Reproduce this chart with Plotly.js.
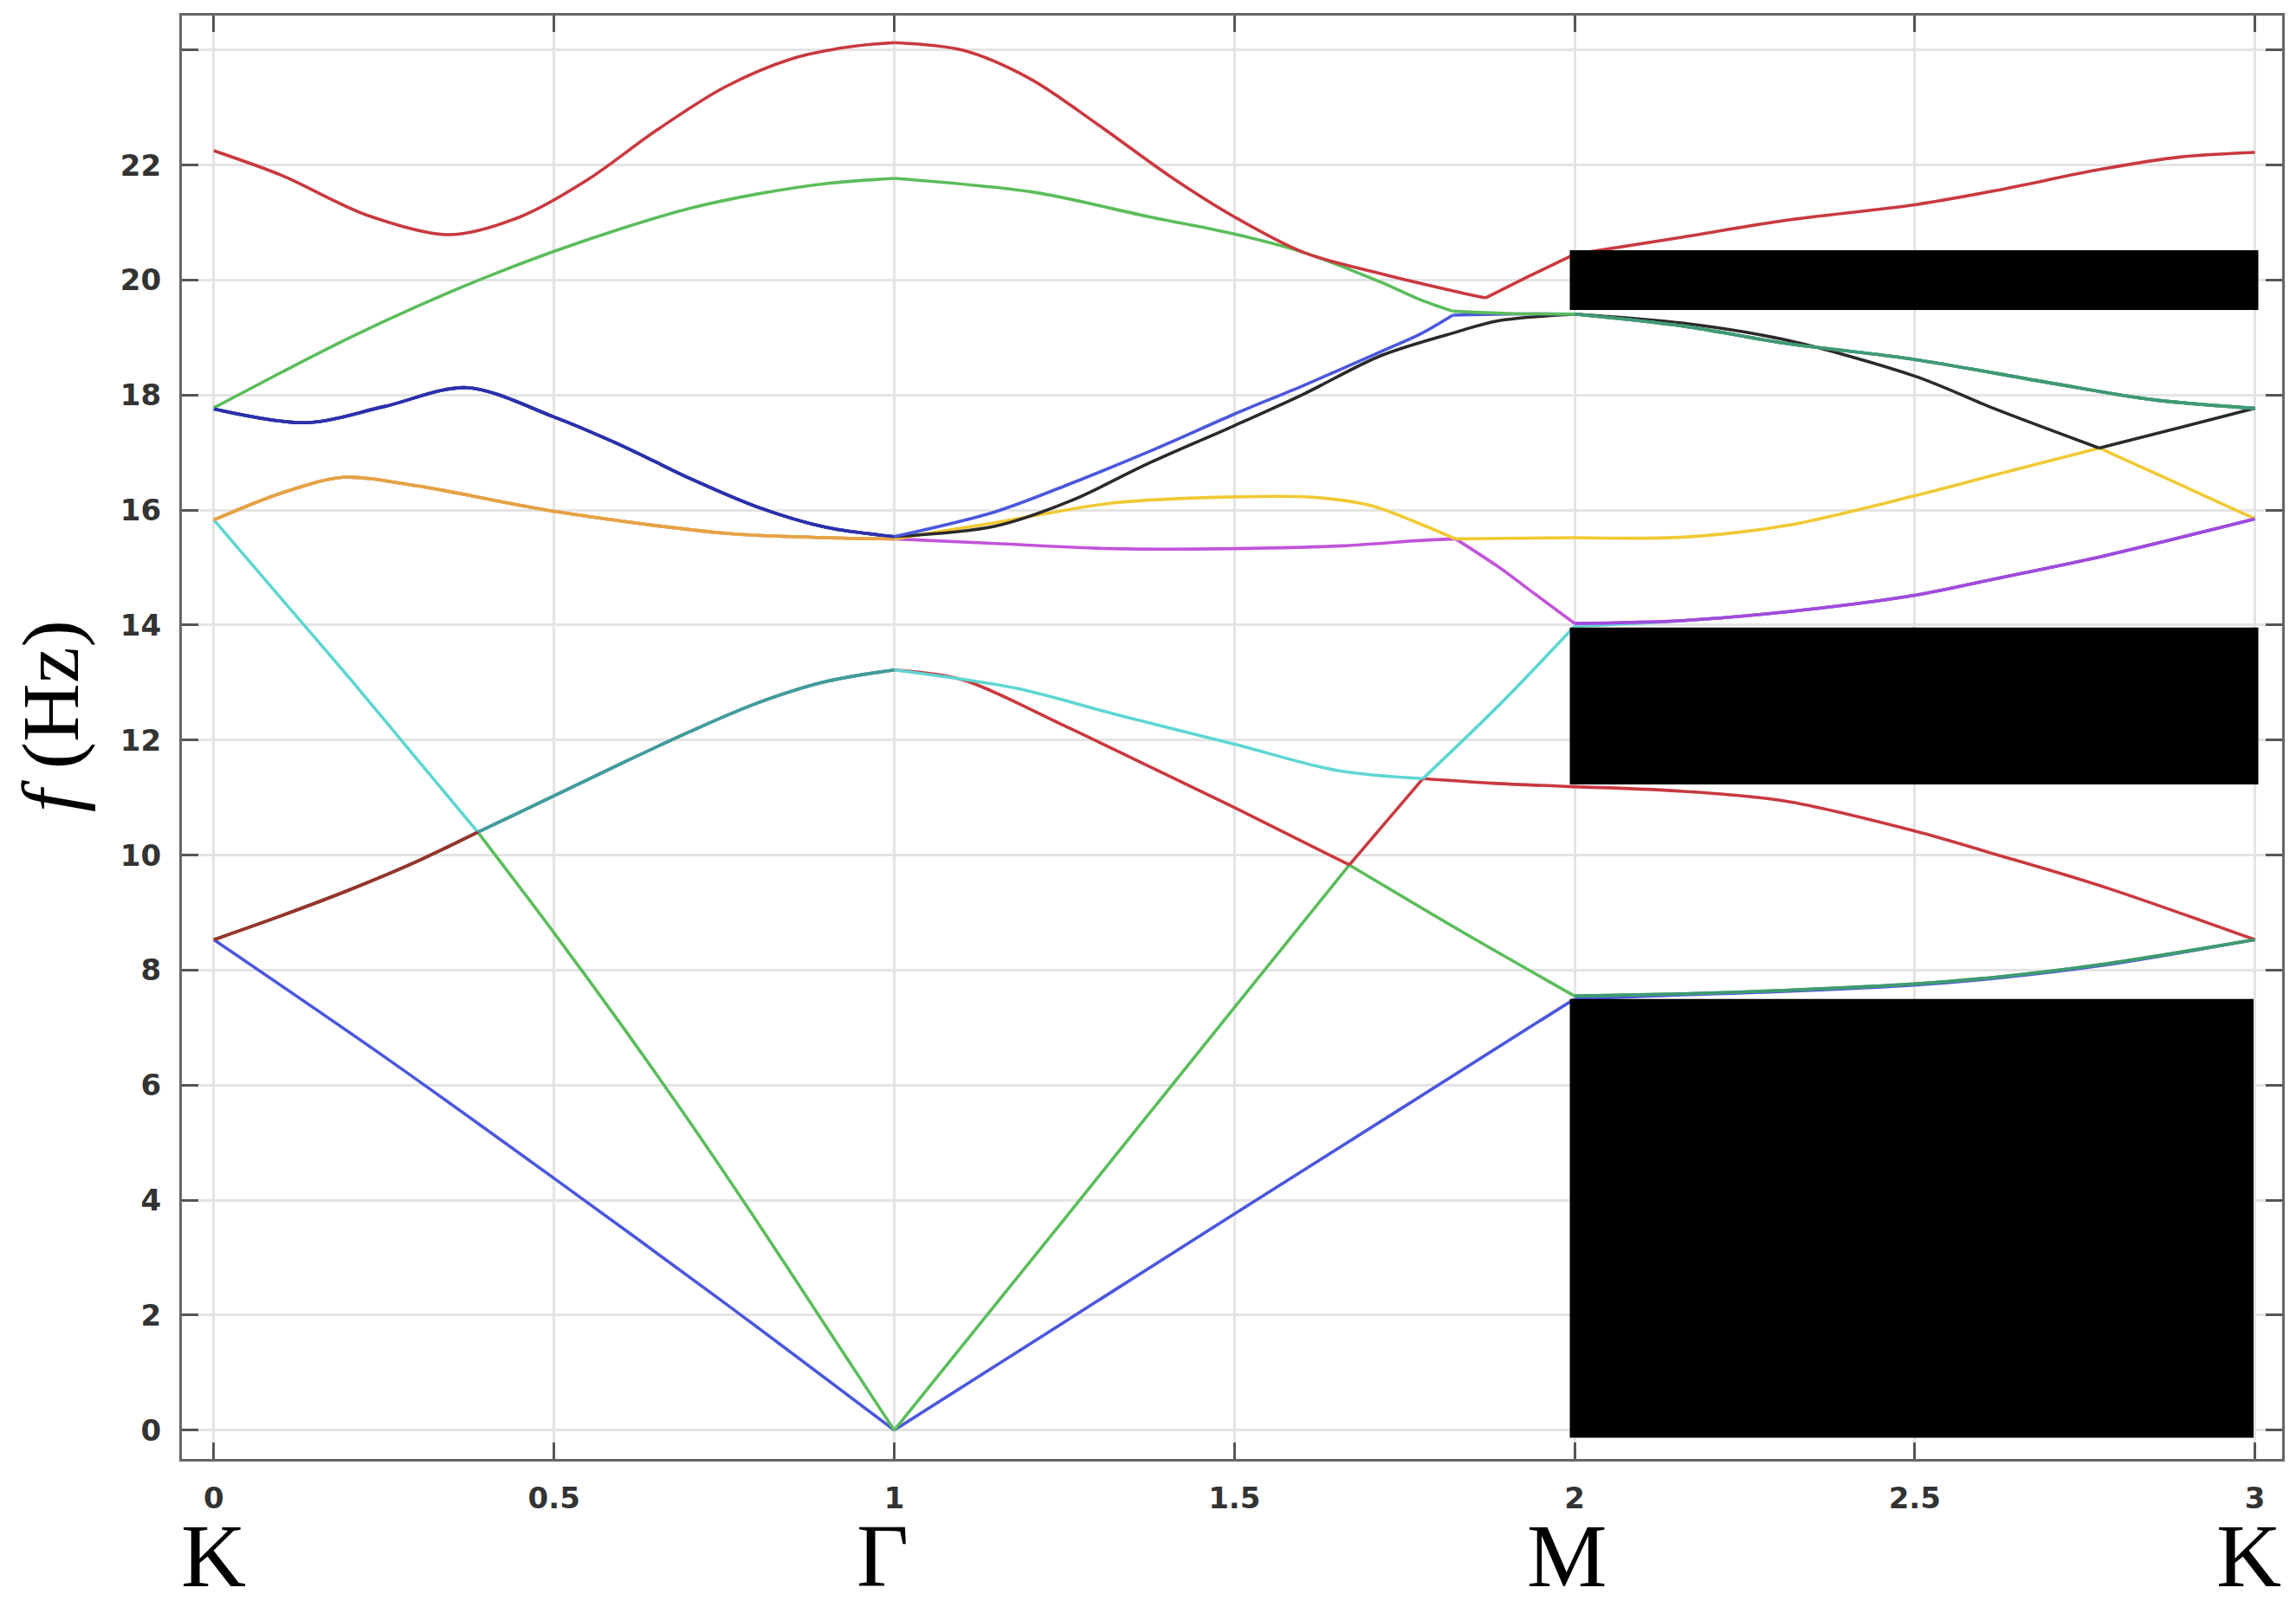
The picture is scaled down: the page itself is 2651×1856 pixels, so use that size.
<!DOCTYPE html>
<html>
<head>
<meta charset="utf-8">
<script src="https://cdn.plot.ly/plotly-3.0.1.min.js"></script>
<style>html,body{margin:0;padding:0;background:#fff}</style>
</head>
<body>
<div id="chart" style="width:2651px;height:1856px"></div>
<script>
// band structure along K -> Gamma -> M -> K, one x/f pair per band (sorted by frequency)
// a repeated x value marks a corner: a high symmetry point or a band crossing
const band1X = [0, 0.25, 0.5, 0.75, 1, 1, 1.25, 1.5, 1.75, 2, 2, 2.16, 2.31, 2.5, 2.62, 2.78, 3];
const band1F = [8.53, 6.5, 4.38, 2.22, 0, 0, 1.88, 3.76, 5.63, 7.5, 7.5, 7.57, 7.63, 7.74, 7.86, 8.09, 8.53];

const band2X = [0, 0.1, 0.2, 0.3, 0.388, 0.388, 0.5, 0.6, 0.7, 0.8, 0.9, 1, 1, 1.25, 1.5, 1.669, 1.669, 1.83, 2, 2, 2.16, 2.31, 2.5, 2.62, 2.78, 3];
const band2F = [8.53, 8.95, 9.4, 9.9, 10.4, 10.4, 8.65, 7.03, 5.35, 3.6, 1.8, 0, 0, 3.67, 7.35, 9.83, 9.83, 8.7, 7.55, 7.55, 7.59, 7.65, 7.76, 7.88, 8.11, 8.53];

const band3X = [0, 0.1, 0.2, 0.3, 0.388, 0.5, 0.6, 0.7, 0.8, 0.9, 1, 1, 1.1, 1.25, 1.4, 1.5, 1.669, 1.669, 1.777, 1.777, 1.88, 2, 2, 2.16, 2.31, 2.5, 2.62, 2.78, 3];
const band3F = [8.53, 8.95, 9.4, 9.9, 10.4, 11.03, 11.6, 12.15, 12.65, 13.02, 13.22, 13.22, 13.05, 12.25, 11.4, 10.83, 9.83, 9.83, 11.33, 11.33, 11.25, 11.19, 11.19, 11.11, 10.94, 10.42, 10.01, 9.44, 8.53];

const band4X = [0, 0.1, 0.2, 0.3, 0.388, 0.388, 0.5, 0.6, 0.7, 0.8, 0.9, 1, 1, 1.18, 1.325, 1.5, 1.652, 1.777, 1.777, 1.89, 2, 2, 2.16, 2.31, 2.5, 2.62, 2.78, 3];
const band4F = [15.83, 14.45, 13.07, 11.65, 10.4, 10.4, 11.03, 11.6, 12.15, 12.65, 13.02, 13.22, 13.22, 12.9, 12.45, 11.93, 11.47, 11.33, 11.33, 12.62, 13.98, 13.98, 14.08, 14.23, 14.52, 14.81, 15.21, 15.85];

const band5X = [0, 0.1, 0.19, 0.3, 0.5, 0.75, 0.9, 1, 1, 1.15, 1.32, 1.5, 1.66, 1.77, 1.825, 1.825, 1.886, 1.943, 2, 2, 2.16, 2.31, 2.5, 2.62, 2.78, 3];
const band5F = [15.83, 16.3, 16.57, 16.42, 15.98, 15.6, 15.52, 15.5, 15.5, 15.42, 15.33, 15.33, 15.38, 15.47, 15.5, 15.5, 15.03, 14.53, 14.03, 14.03, 14.08, 14.23, 14.52, 14.81, 15.21, 15.85];

const band6X = [0, 0.1, 0.19, 0.3, 0.5, 0.75, 0.9, 1, 1, 1.148, 1.318, 1.5, 1.62, 1.7, 1.765, 1.825, 1.825, 1.9, 2, 2, 2.16, 2.31, 2.5, 2.62, 2.771, 2.771, 2.885, 3];
const band6F = [15.83, 16.3, 16.57, 16.42, 15.98, 15.6, 15.52, 15.5, 15.5, 15.78, 16.12, 16.23, 16.22, 16.08, 15.8, 15.5, 15.5, 15.51, 15.52, 15.52, 15.53, 15.73, 16.25, 16.62, 17.08, 17.08, 16.47, 15.85];

const band7X = [0, 0.136, 0.25, 0.372, 0.5, 0.6, 0.7, 0.8, 0.9, 1, 1, 1.148, 1.261, 1.375, 1.5, 1.602, 1.716, 1.83, 1.886, 2, 2, 2.16, 2.31, 2.5, 2.62, 2.771, 2.771, 2.885, 3];
const band7F = [17.76, 17.52, 17.8, 18.13, 17.62, 17.12, 16.55, 16.05, 15.7, 15.54, 15.54, 15.72, 16.17, 16.82, 17.47, 18.02, 18.69, 19.11, 19.29, 19.41, 19.41, 19.25, 18.96, 18.33, 17.75, 17.08, 17.08, 17.42, 17.77];

const band8X = [0, 0.136, 0.25, 0.372, 0.5, 0.6, 0.7, 0.8, 0.9, 1, 1, 1.148, 1.261, 1.375, 1.5, 1.602, 1.716, 1.773, 1.821, 1.821, 1.9, 2, 2, 2.16, 2.31, 2.5, 2.7, 2.85, 3];
const band8F = [17.76, 17.52, 17.8, 18.13, 17.62, 17.12, 16.55, 16.05, 15.7, 15.54, 15.54, 15.97, 16.47, 17.02, 17.67, 18.17, 18.76, 19.06, 19.39, 19.39, 19.41, 19.41, 19.41, 19.2, 18.9, 18.62, 18.21, 17.92, 17.77];

const band9X = [0, 0.1, 0.2, 0.3, 0.4, 0.5, 0.6, 0.7, 0.8, 0.9, 1, 1, 1.204, 1.375, 1.5, 1.602, 1.716, 1.773, 1.821, 1.821, 1.9, 2, 2, 2.16, 2.31, 2.5, 2.7, 2.85, 3];
const band9F = [17.78, 18.4, 19.0, 19.55, 20.05, 20.5, 20.9, 21.25, 21.5, 21.68, 21.77, 21.77, 21.53, 21.1, 20.8, 20.48, 19.96, 19.66, 19.46, 19.46, 19.42, 19.41, 19.41, 19.2, 18.9, 18.62, 18.21, 17.92, 17.77];

const band10X = [0, 0.1, 0.225, 0.346, 0.45, 0.55, 0.65, 0.75, 0.85, 0.93, 1, 1, 1.1, 1.2, 1.3, 1.406, 1.5, 1.602, 1.716, 1.83, 1.869, 1.869, 1.93, 2, 2, 2.16, 2.31, 2.5, 2.62, 2.775, 2.89, 3];
const band10F = [22.25, 21.82, 21.13, 20.79, 21.1, 21.75, 22.6, 23.35, 23.85, 24.05, 24.13, 24.13, 24.0, 23.5, 22.7, 21.8, 21.1, 20.48, 20.11, 19.79, 19.69, 19.69, 20.05, 20.45, 20.45, 20.75, 21.04, 21.31, 21.56, 21.93, 22.14, 22.22];

const symmetryPoints = [0, 1, 2, 3];
const symmetryLabels = ['K', 'Γ', 'M', 'K'];
const xTickVals = [0, 0.5, 1, 1.5, 2, 2.5, 3];
const xTickText = ['0', '0.5', '1', '1.5', '2', '2.5', '3'];
const yTickVals = [0, 2, 4, 6, 8, 10, 12, 14, 16, 18, 20, 22, 24];
const yTickText = ['0', '2', '4', '6', '8', '10', '12', '14', '16', '18', '20', '22', ''];

// black boxes over the M-K branch: [x0, x1, f0, f1]
const maskBoxes = [
    [1.993, 3.005, 19.48, 20.52],
    [1.993, 3.005, 11.23, 13.96],
    [1.993, 2.998, -0.13, 7.5]
];

const bands = [
    [band1X, band1F], [band2X, band2F], [band3X, band3F], [band4X, band4F], [band5X, band5F],
    [band6X, band6F], [band7X, band7F], [band8X, band8F], [band9X, band9F], [band10X, band10F]
];
const bandColors = ['#4b57dc', '#5bbd5b', '#c9393f', '#5ed6d2', '#c254da',
                    '#f1c933', '#2a2a2a', '#4b57dc', '#5bbd5b', '#c9393f'];

// degenerate stretches where two bands sit on top of each other and the colours mix
const overlaps = [
    { band: 3, from: 0, to: 0.388, color: '#93362f' },
    { band: 4, from: 0.388, to: 1, color: '#409c9c' },
    { band: 6, from: 0, to: 1, color: '#e6a243' },
    { band: 8, from: 0, to: 1, color: '#2a30ad' },
    { band: 2, from: 2, to: 3, color: '#3f9a74' },
    { band: 9, from: 2, to: 3, color: '#3f9a74' },
    { band: 5, from: 2, to: 3, color: '#a04ade' }
];

function splitAtCorners(xs, ys) {
    const parts = [];
    let cur = { x: [], y: [] };
    xs.forEach((x, i) => {
        if (i > 0 && x === xs[i - 1]) {
            parts.push(cur);
            cur = { x: [], y: [] };
        }
        cur.x.push(x);
        cur.y.push(ys[i]);
    });
    parts.push(cur);
    return parts;
}

function lineTrace(x, y, color) {
    return {
        x, y,
        type: 'scatter',
        mode: 'lines',
        line: { color, width: 3.6, shape: 'spline', smoothing: 0.9 },
        hoverinfo: 'skip',
        showlegend: false
    };
}

const traces = [];
bands.forEach(([xs, ys], i) => {
    splitAtCorners(xs, ys).forEach(p => traces.push(lineTrace(p.x, p.y, bandColors[i])));
});
overlaps.forEach(o => {
    const [xs, ys] = bands[o.band - 1];
    splitAtCorners(xs, ys).forEach(p => {
        const keep = p.x.map((x, j) => j).filter(j => p.x[j] >= o.from && p.x[j] <= o.to);
        if (keep.length < 2) return;
        traces.push(lineTrace(keep.map(j => p.x[j]), keep.map(j => p.y[j]), o.color));
    });
});

const labelShift = [0, -13, -9, -7];
const annotations = symmetryLabels.map((t, i) => ({
    x: symmetryPoints[i], xref: 'x',
    y: -0.102, yref: 'paper',
    xshift: labelShift[i],
    text: t, showarrow: false, borderpad: 0,
    xanchor: 'center', yanchor: 'bottom',
    font: { family: 'Liberation Serif, Times New Roman, serif', size: 104, color: '#000' }
}));
annotations.push({
    x: -0.0625, xref: 'paper', y: 0.515, yref: 'paper',
    text: '<i>f</i> (Hz)', textangle: -90, showarrow: false, borderpad: 0,
    xanchor: 'center', yanchor: 'middle',
    font: { family: 'Liberation Serif, Times New Roman, serif', size: 94, color: '#000' }
});

const shapes = maskBoxes.map(b => ({
    type: 'rect', xref: 'x', yref: 'y',
    x0: b[0], x1: b[1], y0: b[2], y1: b[3],
    fillcolor: '#000', line: { width: 0 }, layer: 'above'
}));

const axisCommon = {
    ticks: 'inside', ticklen: 19, tickwidth: 3, tickcolor: '#555',
    showline: true, linecolor: '#666', linewidth: 3, mirror: 'ticks',
    showgrid: true, gridcolor: '#e4e4e4', gridwidth: 3, zeroline: false,
    tickfont: { family: 'DejaVu Sans, sans-serif', size: 34, color: '#333', weight: 'bold' }
};

const layout = {
    width: 2651, height: 1856,
    margin: { l: 210, r: 16, t: 18, b: 171 },
    paper_bgcolor: '#fff', plot_bgcolor: '#fff',
    showlegend: false,
    xaxis: Object.assign({}, axisCommon, {
        range: [-0.047, 3.04], tickmode: 'array', tickvals: xTickVals, ticktext: xTickText,
        ticklabelstandoff: 13
    }),
    yaxis: Object.assign({}, axisCommon, {
        range: [-0.5, 24.6], tickmode: 'array', tickvals: yTickVals, ticktext: yTickText,
        ticklabelstandoff: 14
    }),
    annotations, shapes
};

Plotly.newPlot('chart', traces, layout, { staticPlot: true, displayModeBar: false });
</script>
</body>
</html>
